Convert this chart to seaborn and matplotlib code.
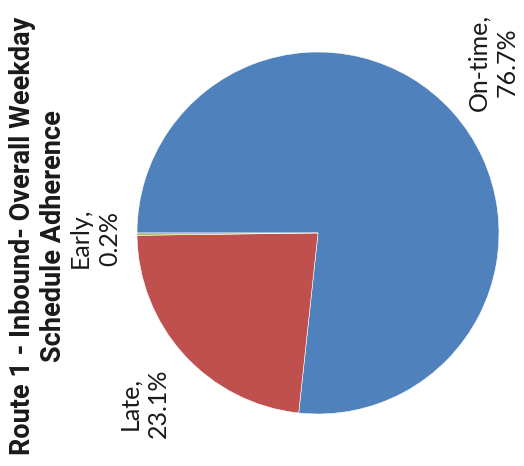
import matplotlib
matplotlib.use("Agg")
import matplotlib.pyplot as plt
import seaborn as sns

categories = ["On-time", "Late", "Early"]
shares = [76.7, 23.1, 0.2]
title_lines = ["Route 1 - Inbound- Overall Weekday", "Schedule Adherence"]

sns.set_theme(style="white")
palette = ["#4F81BD", "#C0504D", "#9BBB59"]

W, H = 524, 466
fig = plt.figure(figsize=(W / 100, H / 100), dpi=100)

# pie centre and radius in pixels
cx, cy, r = 318, 233, 181
ax = fig.add_axes([(cx - r) / W, (H - cy - r) / H, 2 * r / W, 2 * r / H])
ax.pie(shares, colors=palette, startangle=180, counterclock=False,
       wedgeprops=dict(edgecolor="white", linewidth=0.4))
ax.set_xlim(-1, 1)
ax.set_ylim(-1, 1)
ax.set_aspect("equal")
ax.axis("off")


def px(x, y):
    return x / W, 1 - y / H


label_font = dict(family=["Lato", "DejaVu Sans"], fontweight="normal", fontsize=18,
                  color="#1a1a1a", rotation=90, ha="center", va="center",
                  multialignment="center", linespacing=1.3)
label_pos = {"On-time": (493, 62), "Late": (144, 403), "Early": (95, 238)}
for name, val in zip(categories, shares):
    x, y = label_pos[name]
    fig.text(*px(x, y), f"{name},\n{val}%", **label_font)

fig.text(*px(38, 236), "\n".join(title_lines), rotation=90, ha="center", va="center",
         multialignment="center", fontsize=19.5, fontweight="bold",
         family=["Roboto", "DejaVu Sans"], color="#1a1a1a",
         linespacing=1.2)

fig.savefig("out.png", dpi=100, facecolor="white")
